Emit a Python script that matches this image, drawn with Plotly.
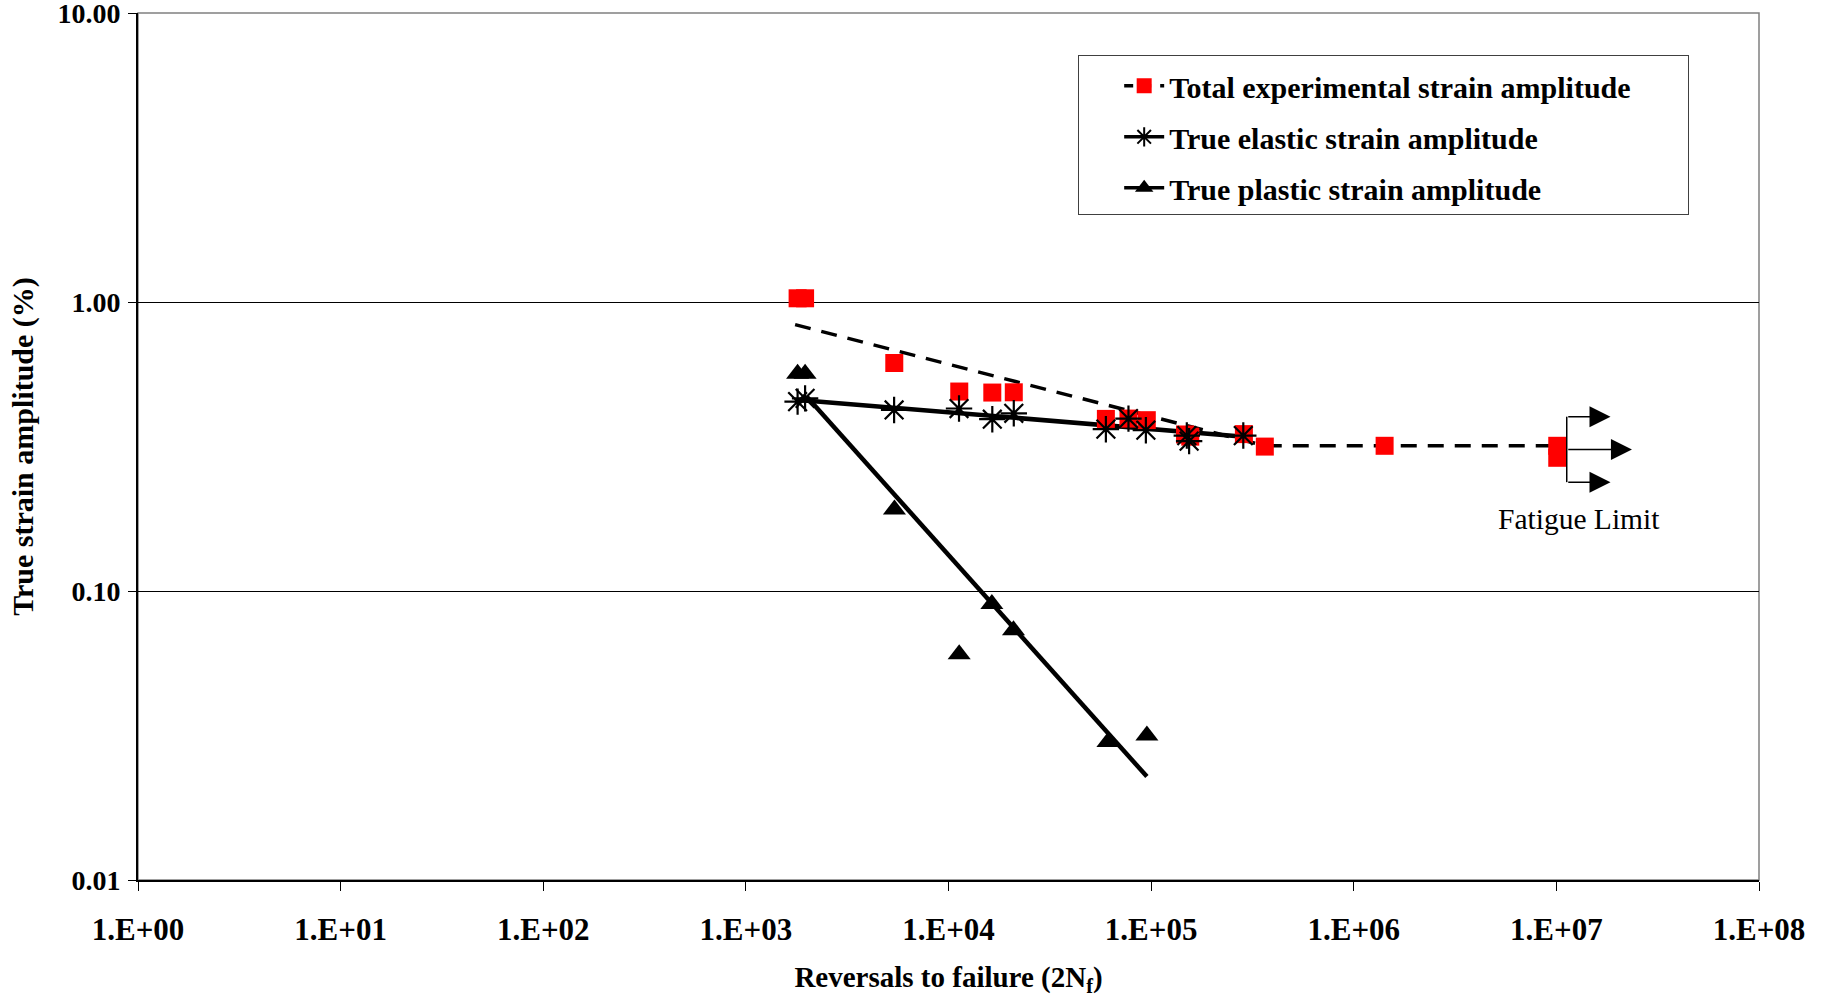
import math
import plotly.graph_objects as go

# ---------------- data ----------------
total_x = [1800, 1960, 5400, 11300, 16450, 21000, 59800, 77300, 95200,
           147000, 156000, 287000, 364000, 1.42e6, 1.01e7, 1.01e7]
total_y = [1.03, 1.03, 0.615, 0.49, 0.486, 0.487, 0.394, 0.395, 0.39,
           0.348, 0.342, 0.349, 0.316, 0.318, 0.318, 0.289]

elastic_x = [1800, 1960, 5390, 11270, 16450, 21000, 59800, 77300, 94200,
             150000, 154000, 285000]
elastic_y = [0.452, 0.464, 0.423, 0.428, 0.393, 0.412, 0.363, 0.395, 0.36,
             0.345, 0.33, 0.345]

plastic_x = [1800, 1960, 5410, 11290, 16370, 20930, 61200, 95300]
plastic_y = [0.565, 0.565, 0.1915, 0.0604, 0.0901, 0.0731, 0.030, 0.0316]

total_fit_x = [1750, 364000, 1.0e7]
total_fit_y = [0.835, 0.318, 0.318]
elastic_fit_x = [1830, 288000]
elastic_fit_y = [0.458, 0.342]
plastic_fit_x = [2000, 95300]
plastic_fit_y = [0.47, 0.0228]

# fatigue-limit bracket and arrows
fl_bracket_x = [1.125e7, 1.125e7]
fl_bracket_y = [0.401, 0.238]
fl_arrow_tip_x = [1.85e7, 2.36e7, 1.85e7]
fl_arrow_y = [0.401, 0.309, 0.238]
fl_label = "Fatigue Limit"
fl_label_pos = (1.295e7, 0.1774)

x_tickvals = [1e0, 1e1, 1e2, 1e3, 1e4, 1e5, 1e6, 1e7, 1e8]
x_ticktext = ["1.E+00", "1.E+01", "1.E+02", "1.E+03", "1.E+04",
              "1.E+05", "1.E+06", "1.E+07", "1.E+08"]
y_tickvals = [0.01, 0.1, 1, 10]
y_ticktext = ["0.01", "0.10", "1.00", "10.00"]

names = ["Total experimental strain amplitude",
         "True elastic strain amplitude",
         "True plastic strain amplitude"]

SERIF = "Liberation Serif"
NBSP = "\u00a0"

fig = go.Figure()

# fit lines
fig.add_trace(go.Scatter(x=total_fit_x, y=total_fit_y, mode="lines",
                         line=dict(color="black", width=3.5, dash="16px,11px"),
                         showlegend=False, legendgroup="g1", hoverinfo="skip"))
fig.add_trace(go.Scatter(x=elastic_fit_x, y=elastic_fit_y, mode="lines",
                         line=dict(color="black", width=4.5),
                         showlegend=False, legendgroup="g2", hoverinfo="skip"))
fig.add_trace(go.Scatter(x=plastic_fit_x, y=plastic_fit_y, mode="lines",
                         line=dict(color="black", width=4.5),
                         showlegend=False, legendgroup="g3", hoverinfo="skip"))

# markers
fig.add_trace(go.Scatter(x=total_x, y=total_y, mode="markers",
                         marker=dict(symbol="square", size=18, color="#FF0000"),
                         showlegend=False, legendgroup="g1"))
fig.add_trace(go.Scatter(x=elastic_x, y=elastic_y, mode="markers",
                         marker=dict(symbol="asterisk-open", size=22, color="black",
                                     line=dict(color="black", width=2.2)),
                         showlegend=False, legendgroup="g2"))
fig.add_trace(go.Scatter(x=plastic_x, y=plastic_y, mode="markers",
                         marker=dict(symbol="triangle-up", size=20, color="black"),
                         showlegend=False, legendgroup="g3"))

# fatigue-limit bracket
fig.add_trace(go.Scatter(x=fl_bracket_x, y=fl_bracket_y, mode="lines",
                         line=dict(color="black", width=1.5),
                         showlegend=False, hoverinfo="skip"))

# legend entries
fig.add_trace(go.Scatter(x=[None], y=[None], mode="lines+markers",
                         name=names[0] + NBSP * 7,
                         line=dict(color="black", width=3.5, dash="9px,9px"),
                         marker=dict(symbol="square", size=15, color="#FF0000"),
                         legendgroup="g1"))
fig.add_trace(go.Scatter(x=[None], y=[None], mode="lines+markers", name=names[1],
                         line=dict(color="black", width=3.5),
                         marker=dict(symbol="asterisk-open", size=18, color="black",
                                     line=dict(color="black", width=2)),
                         legendgroup="g2"))
fig.add_trace(go.Scatter(x=[None], y=[None], mode="lines+markers", name=names[2],
                         line=dict(color="black", width=3.5),
                         marker=dict(symbol="triangle-up", size=16, color="black"),
                         legendgroup="g3"))

annotations = []
for tip_x, yy in zip(fl_arrow_tip_x, fl_arrow_y):
    annotations.append(dict(
        x=math.log10(tip_x), y=math.log10(yy),
        ax=math.log10(fl_bracket_x[0]), ay=math.log10(yy),
        xref="x", yref="y", axref="x", ayref="y",
        text="", showarrow=True, arrowhead=2, arrowsize=2.8,
        arrowwidth=1.5, arrowcolor="black", standoff=0, startstandoff=0))
annotations.append(dict(
    x=math.log10(fl_label_pos[0]), y=math.log10(fl_label_pos[1]),
    xref="x", yref="y", text=fl_label, showarrow=False,
    font=dict(family=SERIF, size=29.5, color="black")))

fig.update_layout(
    width=1830, height=997,
    margin=dict(l=138, r=71, t=13, b=117, autoexpand=False),
    paper_bgcolor="white", plot_bgcolor="white",
    showlegend=True,
    legend=dict(x=0.58, y=0.9516, xanchor="left", yanchor="top",
                bgcolor="white", bordercolor="#404040", borderwidth=1,
                font=dict(family=SERIF, size=30, color="black", weight="bold"),
                title=dict(text=" ", font=dict(size=3)),
                tracegroupgap=9, indentation=40, itemwidth=40,
                traceorder="grouped"),
    annotations=annotations,
    shapes=[dict(type="rect", xref="paper", yref="paper", x0=0, x1=1, y0=0, y1=1,
                 line=dict(color="#808080", width=1.5), layer="below")],
)

fig.update_xaxes(
    type="log", range=[0, 8],
    tickvals=x_tickvals, ticktext=x_ticktext,
    tickfont=dict(family=SERIF, size=31, color="black", weight="bold"),
    ticks="outside", ticklen=9, tickwidth=1, tickcolor="black",
    ticklabelstandoff=12, ticklabeloverflow="allow",
    showline=True, linecolor="black", linewidth=2,
    showgrid=False, zeroline=False,
    title=dict(text="Reversals to failure (2N<sub>f</sub>)",
               font=dict(family=SERIF, size=29, color="black", weight="bold"),
               standoff=20),
)
fig.update_yaxes(
    type="log", range=[-2, 1],
    tickvals=y_tickvals, ticktext=y_ticktext,
    tickfont=dict(family=SERIF, size=28, color="black", weight="bold"),
    ticks="outside", ticklen=8, tickwidth=1, tickcolor="black",
    ticklabelstandoff=2, ticklabeloverflow="allow",
    showline=True, linecolor="black", linewidth=2,
    showgrid=True, gridcolor="black", gridwidth=1, zeroline=False,
    title=dict(text="True strain amplitude (%)",
               font=dict(family=SERIF, size=30, color="black", weight="bold"),
               standoff=15),
)

fig.write_html("out.html",
               config={"displayModeBar": False},
               post_script="document.body.style.margin='0';"
                           "document.body.style.overflow='hidden';")
